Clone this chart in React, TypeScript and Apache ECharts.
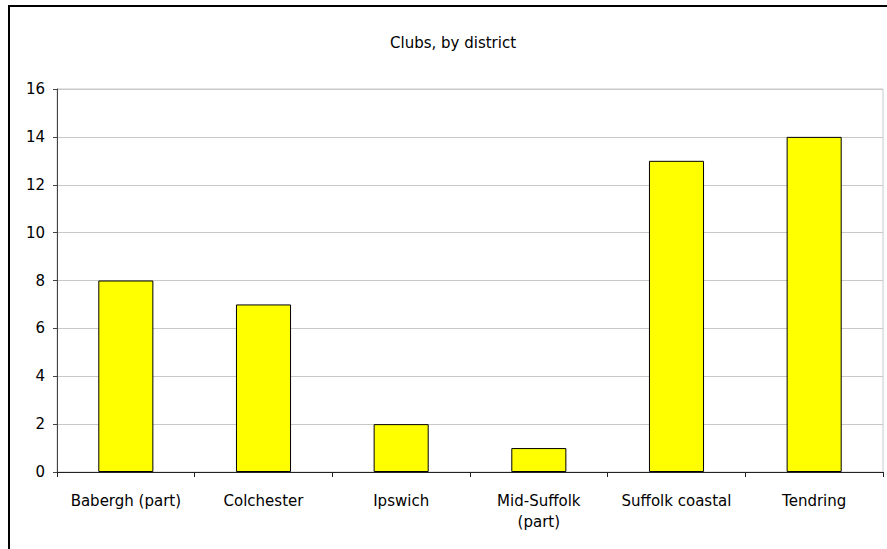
import React, { useEffect, useRef } from "react";
import * as echarts from "echarts";

const districts = [
  "Babergh (part)",
  "Colchester",
  "Ipswich",
  "Mid-Suffolk\n(part)",
  "Suffolk coastal",
  "Tendring",
];
const clubs = [8, 7, 2, 1, 13, 14];
const yTicks = { min: 0, max: 16, interval: 2 };

const FONT = "Tahoma, 'DejaVu Sans', Verdana, sans-serif";

export default function App() {
  const ref = useRef<HTMLDivElement>(null);

  useEffect(() => {
    if (!ref.current) return;
    const chart = echarts.init(ref.current, null, { renderer: "svg" });
    chart.setOption({
      animation: false,
      backgroundColor: "#ffffff",
      title: {
        text: "Clubs, by district",
        left: 385,
        top: 30,
        textStyle: { fontFamily: FONT, fontSize: 15, fontWeight: "normal", color: "#000" },
      },
      graphic: [
        {
          type: "rect",
          shape: { x: 9, y: 6, width: 900, height: 600 },
          style: { fill: "none", stroke: "#000", lineWidth: 2 },
          silent: true,
        },
      ],
      grid: {
        left: 57,
        top: 89,
        right: 4,
        bottom: 77,
        show: true,
        borderColor: "#c8c8c8",
        borderWidth: 1,
      },
      xAxis: {
        type: "category",
        data: districts,
        axisLine: { lineStyle: { color: "#222", width: 1 } },
        axisTick: { show: true, length: 5, lineStyle: { color: "#222" } },
        axisLabel: {
          fontFamily: FONT,
          fontSize: 15,
          color: "#000",
          margin: 18,
          lineHeight: 21,
          interval: 0,
        },
      },
      yAxis: {
        type: "value",
        min: yTicks.min,
        max: yTicks.max,
        interval: yTicks.interval,
        axisLine: { show: true, lineStyle: { color: "#444", width: 1 } },
        axisTick: { show: true, length: 4, lineStyle: { color: "#444" } },
        axisLabel: { fontFamily: FONT, fontSize: 15, color: "#000", margin: 12 },
        splitLine: { lineStyle: { color: "#c8c8c8", width: 1 } },
      },
      series: [
        {
          type: "bar",
          data: clubs,
          barWidth: "40%",
          itemStyle: { color: "#ffff00", borderColor: "#000", borderWidth: 1 },
        },
      ],
    });
    return () => chart.dispose();
  }, []);

  return (
    <div
      ref={ref}
      style={{ position: "absolute", left: 0, top: 0, width: 887, height: 549 }}
    />
  );
}
